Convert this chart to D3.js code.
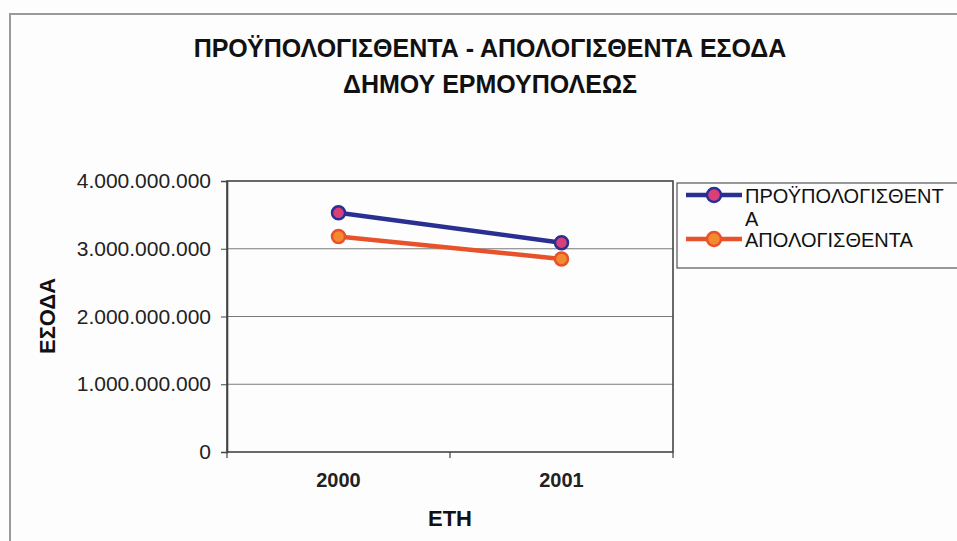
<!DOCTYPE html>
<html><head><meta charset="utf-8">
<script src="https://cdn.jsdelivr.net/npm/d3@7"></script>
<style>html,body{margin:0;padding:0;background:#fff;}svg{display:block;}</style>
</head><body>
<script>
const years = ["2000", "2001"];
const budgeted = [3530000000, 3090000000];   // ΠΡΟΫΠΟΛΟΓΙΣΘΕΝΤΑ
const actual = [3180000000, 2850000000];     // ΑΠΟΛΟΓΙΣΘΕΝΤΑ
const yTicks = [0, 1000000000, 2000000000, 3000000000, 4000000000];
const titleLines = ["ΠΡΟΫΠΟΛΟΓΙΣΘΕΝΤΑ - ΑΠΟΛΟΓΙΣΘΕΝΤΑ ΕΣΟΔΑ", "ΔΗΜΟΥ ΕΡΜΟΥΠΟΛΕΩΣ"];
const seriesNames = ["ΠΡΟΫΠΟΛΟΓΙΣΘΕΝΤ", "ΑΠΟΛΟΓΙΣΘΕΝΤΑ"];
const yTitle = "ΕΣΟΔΑ", xTitle = "ΕΤΗ";

const W = 957, H = 541;
const m = {left: 227, right: 673, top: 181, bottom: 452};
const font = "'Liberation Sans', Arial, sans-serif";

const svg = d3.select("body").append("svg").attr("width", W).attr("height", H);
svg.append("rect").attr("width", W).attr("height", H).attr("fill", "#fdfdfd");

// outer frame
svg.append("path").attr("d", `M10,${H} L10,14 L${W},14`).attr("fill", "none")
  .attr("stroke", "#9a9a9a").attr("stroke-width", 2);

const loc = d3.formatLocale({decimal: ",", thousands: ".", grouping: [3], currency: ["", "€"]});
const fmt = loc.format(",d");

const x = d3.scaleBand().domain(years).range([m.left, m.right]);
const y = d3.scaleLinear().domain([0, 4000000000]).range([m.bottom, m.top]);

// title
svg.append("g").selectAll("text").data(titleLines).join("text")
  .attr("x", 490).attr("y", (d, i) => 57 + i * 36)
  .attr("text-anchor", "middle").attr("font-family", font).attr("font-weight", "bold")
  .attr("font-size", 25).attr("fill", "#111").text(d => d);

// gridlines
svg.append("g").selectAll("line").data(yTicks.filter(v => v > 0 && v < 4000000000)).join("line")
  .attr("x1", m.left).attr("x2", m.right).attr("y1", d => y(d)).attr("y2", d => y(d))
  .attr("stroke", "#7a7a7a").attr("stroke-width", 1);

// plot border
svg.append("rect").attr("x", m.left).attr("y", m.top)
  .attr("width", m.right - m.left).attr("height", m.bottom - m.top)
  .attr("fill", "none").attr("stroke", "#444").attr("stroke-width", 1.6);

// y axis
const yAxis = svg.append("g").attr("transform", `translate(${m.left},0)`)
  .call(d3.axisLeft(y).tickValues(yTicks).tickFormat(fmt).tickSize(6).tickPadding(10));
yAxis.select(".domain").attr("stroke", "#444").attr("stroke-width", 1.6);
yAxis.selectAll(".tick line").attr("stroke", "#444");
yAxis.selectAll("text").attr("font-family", font).attr("font-size", 21).attr("fill", "#222");

// x axis
const xAxis = svg.append("g").attr("transform", `translate(0,${m.bottom})`)
  .call(d3.axisBottom(x).tickSize(0).tickPadding(21));
xAxis.select(".domain").remove();
xAxis.selectAll("text").attr("font-family", font).attr("font-size", 20).attr("font-weight", "bold").attr("fill", "#222");
// category separators ticks
svg.append("g").selectAll("line").data([0, 1, 2]).join("line")
  .attr("x1", i => m.left + i * x.step()).attr("x2", i => m.left + i * x.step())
  .attr("y1", m.bottom).attr("y2", m.bottom + 6).attr("stroke", "#444").attr("stroke-width", 1.2);

// axis titles
svg.append("text").attr("x", x.range()[0] + (x.range()[1] - x.range()[0]) / 2).attr("y", 526)
  .attr("text-anchor", "middle").attr("font-family", font).attr("font-weight", "bold")
  .attr("font-size", 22).attr("fill", "#111").text(xTitle);
svg.append("text").attr("transform", `translate(55,316) rotate(-90)`)
  .attr("text-anchor", "middle").attr("font-family", font).attr("font-weight", "bold")
  .attr("font-size", 22).attr("fill", "#111").text(yTitle);

// series
const series = [
  {vals: budgeted, line: "#2a2f92", fill: "#d9407a"},
  {vals: actual, line: "#e8522a", fill: "#f28a30"}
];
const lineGen = d3.line().x((d, i) => x(years[i]) + x.bandwidth() / 2).y(d => y(d));
series.forEach(s => {
  svg.append("path").datum(s.vals).attr("d", lineGen).attr("fill", "none")
    .attr("stroke", s.line).attr("stroke-width", 4.5);
  svg.append("g").selectAll("circle").data(s.vals).join("circle")
    .attr("cx", (d, i) => x(years[i]) + x.bandwidth() / 2).attr("cy", d => y(d)).attr("r", 6.5)
    .attr("fill", s.fill).attr("stroke", s.line).attr("stroke-width", 2.5);
});

// legend
const lg = svg.append("g");
lg.append("rect").attr("x", 677).attr("y", 183).attr("width", 300).attr("height", 85)
  .attr("fill", "none").attr("stroke", "#555").attr("stroke-width", 1.2);
const legY = [195, 239];
series.forEach((s, i) => {
  lg.append("line").attr("x1", 686).attr("x2", 742).attr("y1", legY[i]).attr("y2", legY[i])
    .attr("stroke", s.line).attr("stroke-width", 4.5);
  lg.append("circle").attr("cx", 714).attr("cy", legY[i]).attr("r", 7)
    .attr("fill", s.fill).attr("stroke", s.line).attr("stroke-width", 2.5);
});
lg.append("text").attr("x", 745).attr("y", 203).attr("font-family", font).attr("font-size", 20)
  .attr("fill", "#111").text(seriesNames[0]);
lg.append("text").attr("x", 745).attr("y", 226).attr("font-family", font).attr("font-size", 20)
  .attr("fill", "#111").text("Α");
lg.append("text").attr("x", 745).attr("y", 247).attr("font-family", font).attr("font-size", 20)
  .attr("fill", "#111").text(seriesNames[1]);
</script>
</body></html>
